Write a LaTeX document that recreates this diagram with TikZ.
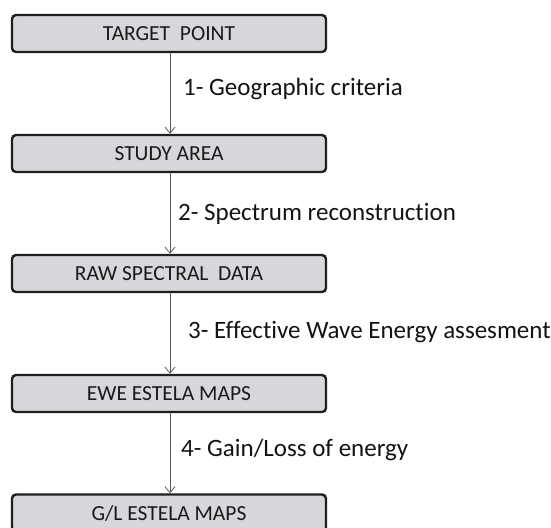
\documentclass[tikz,border=0pt]{standalone}
\usepackage{fontspec}
\setmainfont[Ligatures=NoCommon]{Carlito}
\usetikzlibrary{arrows.meta}
\begin{document}
\begin{tikzpicture}[x=1pt,y=-1pt,
  stepbox/.style={draw=black!88,line width=2.4pt,fill=black!15!blue!2!white!86!black,
    rounded corners=4pt,minimum width=314pt,minimum height=37pt,inner sep=0pt,
    font=\fontsize{21.5}{24}\selectfont,text=black!90},
  flow/.style={draw=black!65,line width=0.8pt,-{Straight Barb[length=6pt,width=10pt,line width=0.8pt]}},
  steplabel/.style={anchor=west,font=\fontsize{25}{28}\selectfont,text=black!92,inner sep=0pt}]
\useasboundingbox (0,0) rectangle (551,527);
\fill[white] (0,0) rectangle (551,527);
\node[stepbox] (b1) at (169,33.5) {TARGET\ \ POINT};
\node[stepbox] (b2) at (169,153.5) {STUDY AREA};
\node[stepbox] (b3) at (169,273.5) {RAW SPECTRAL\ \ DATA};
\node[stepbox] (b4) at (169,393.5) {EWE ESTELA MAPS};
\node[stepbox] (b5) at (169,513) {G/L ESTELA MAPS};
\draw[flow] (b1.south) ++(1,0) coordinate (s1) -- (s1 |- b2.north);
\draw[flow] (b2.south) ++(1,0) coordinate (s2) -- (s2 |- b3.north);
\draw[flow] (b3.south) ++(1,0) coordinate (s3) -- (s3 |- b4.north);
\draw[flow] (b4.south) ++(1,0) coordinate (s4) -- (s4 |- b5.north);
\node[steplabel] (l1) at (183,89) {1- Geographic criteria};
\node[steplabel] (l2) at (178,214) {2- Spectrum reconstruction};
\node[steplabel] (l3) at (188,332) {3- Effective Wave Energy assesment};
\node[steplabel] (l4) at (181,450) {4- Gain/Loss of energy};
\end{tikzpicture}
\end{document}
